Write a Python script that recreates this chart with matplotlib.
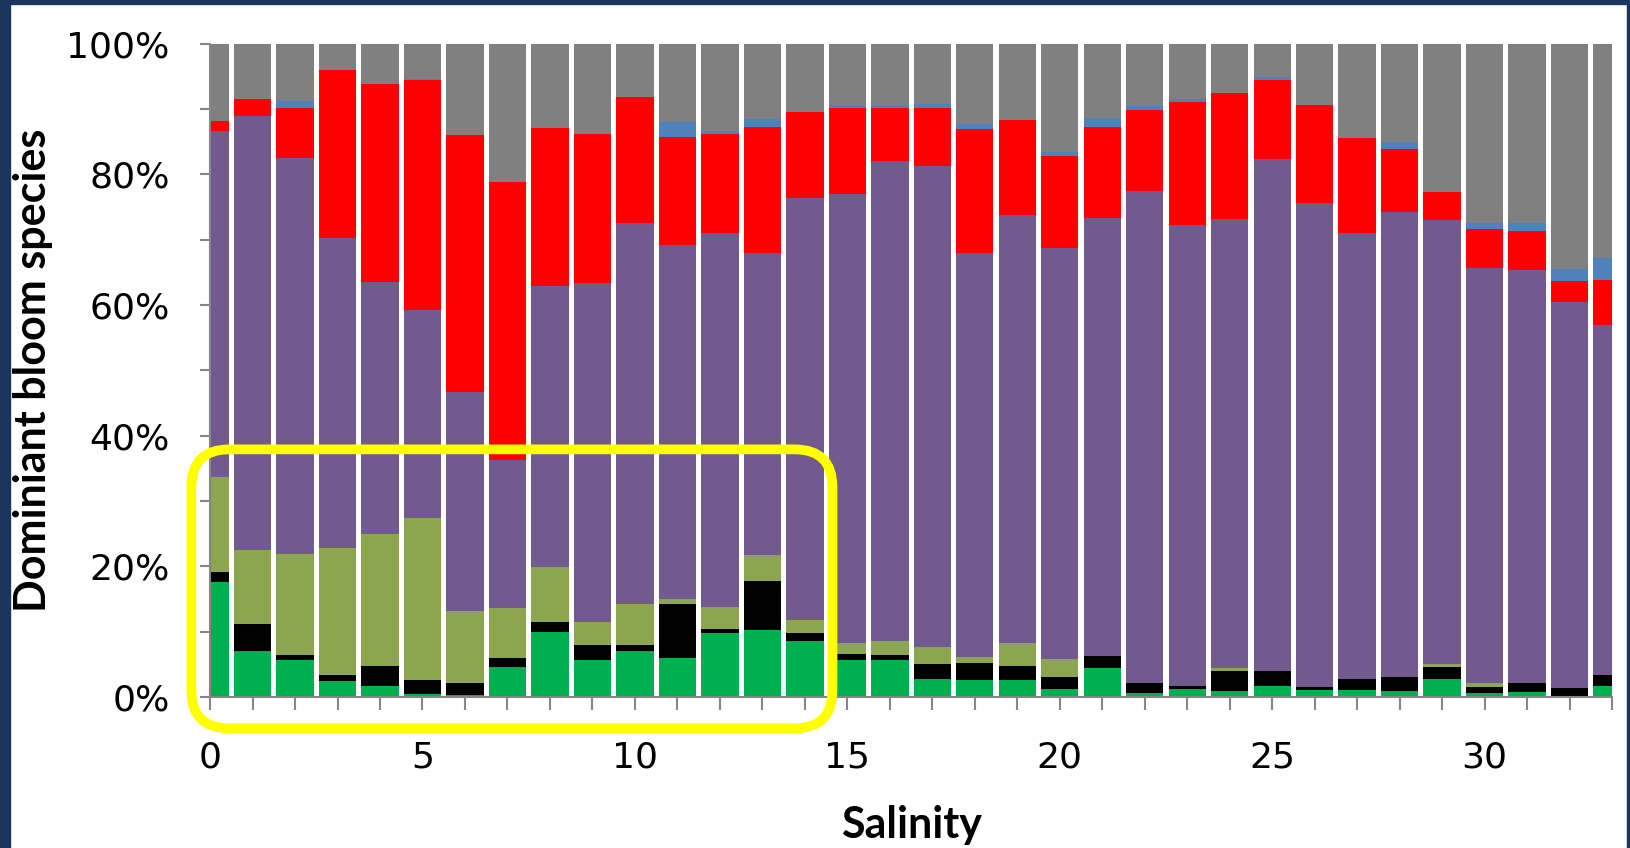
import numpy as np
import matplotlib
matplotlib.use("Agg")
import matplotlib.pyplot as plt
from matplotlib.patches import FancyBboxPatch, Rectangle

# salinity classes 0..33, share of each dominant bloom group (%)
salinity = np.arange(34)

green  = [17.6, 7.0, 5.6, 2.5, 1.7, 0.5, 0.3, 4.6, 10.0, 5.7, 7.1, 5.9, 9.8, 10.2, 8.6, 5.7, 5.6,
          2.8, 2.6, 2.6, 1.2, 4.4, 0.6, 1.2, 0.9, 1.7, 1.0, 1.1, 0.9, 2.8, 0.6, 0.7, 0.0, 1.7]
black  = [1.6, 4.2, 0.9, 0.8, 3.0, 2.1, 1.8, 1.3, 1.4, 2.2, 0.9, 8.3, 0.6, 7.6, 1.2, 0.9, 0.9,
          2.3, 2.6, 2.1, 1.9, 1.8, 1.6, 0.5, 3.1, 2.2, 0.5, 1.6, 2.2, 1.8, 0.9, 1.5, 1.3, 1.6]
olive  = [14.4, 11.3, 15.4, 19.5, 20.2, 24.8, 11.1, 7.7, 8.5, 3.6, 6.3, 0.8, 3.4, 4.0, 2.0, 1.7, 2.0,
          2.5, 0.9, 3.5, 2.7, 0.0, 0.0, 0.0, 0.5, 0.0, 0.0, 0.0, 0.0, 0.4, 0.6, 0.0, 0.0, 0.0]
purple = [53.0, 66.4, 60.6, 47.5, 38.6, 31.8, 33.5, 22.6, 43.0, 51.8, 58.3, 54.2, 57.2, 46.2, 64.6, 68.7, 73.5,
          73.7, 61.8, 65.5, 63.0, 67.1, 75.3, 70.6, 68.6, 78.4, 74.1, 68.3, 71.2, 68.0, 63.6, 63.1, 59.1, 53.6]
red    = [1.6, 2.7, 7.6, 25.6, 30.4, 35.2, 39.3, 42.6, 24.2, 22.9, 19.3, 16.5, 15.2, 19.2, 13.2, 13.1, 8.1,
          8.8, 19.1, 14.6, 14.0, 13.9, 12.4, 18.8, 19.4, 12.1, 15.0, 14.6, 9.6, 4.3, 6.0, 6.0, 3.2, 6.9]
blue   = [0.0, 0.0, 1.1, 0.0, 0.0, 0.2, 0.0, 0.0, 0.0, 0.0, 0.0, 2.3, 0.5, 1.3, 0.0, 0.5, 0.5,
          0.7, 0.7, 0.0, 0.6, 1.4, 0.5, 0.4, 0.0, 0.5, 0.0, 0.0, 1.0, 0.0, 0.9, 1.3, 1.9, 3.4]
gray   = [11.8, 8.4, 8.8, 4.1, 6.1, 5.4, 14.0, 21.2, 12.9, 13.8, 8.1, 12.0, 13.3, 11.5, 10.4, 9.4, 9.4,
          9.2, 12.3, 11.7, 16.6, 11.4, 9.6, 8.5, 7.5, 5.1, 9.4, 14.4, 15.1, 22.7, 27.4, 27.4, 34.5, 32.8]

layers = [green, black, olive, purple, red, blue, gray]
colors = ['#00B050', '#000000', '#8BA64E', '#725A8F', '#FF0000', '#4F81BD', '#808080']

fig = plt.figure(figsize=(16.31, 8.48), dpi=100)
ax = fig.add_axes([0.1288, 0.1781, 0.8596, 0.7704])

bottom = np.zeros(len(salinity))
for vals, col in zip(layers, colors):
    vals = np.array(vals)
    ax.bar(salinity, vals, width=0.88, bottom=bottom, color=col, linewidth=0)
    bottom += vals

ax.set_xlim(0, 33)
ax.set_ylim(0, 100)

ax.set_xticks(np.arange(0, 34))
ax.set_xticklabels([str(s) if s % 5 == 0 else '' for s in salinity])
ax.set_yticks(np.arange(0, 101, 10))
ax.set_yticklabels([f'{v}%' if v % 20 == 0 else '' for v in range(0, 101, 10)])

for side in ['top', 'right']:
    ax.spines[side].set_visible(False)
for side in ['left', 'bottom']:
    ax.spines[side].set_color('#868686')
    ax.spines[side].set_linewidth(1.5)

ax.tick_params(axis='both', direction='out', color='#868686', width=1.5, labelsize=26, pad=22)
ax.tick_params(axis='x', length=9)
ax.tick_params(axis='y', length=7)

ax.set_ylabel('Dominiant bloom species', fontsize=31, fontweight='bold', family='Lato', labelpad=10)
ax.set_xlabel('Salinity', fontsize=31, fontweight='bold', family='Lato', labelpad=22)

# yellow highlight around low-salinity bars
fig.canvas.draw()
(x0, y0), (x1, y1) = ax.transData.transform([(-0.44, -4.8), (14.65, 37.9)])
box = FancyBboxPatch((x0, y0), x1 - x0, y1 - y0,
                     boxstyle='round,pad=0,rounding_size=38',
                     transform=None, fill=False, edgecolor='#FFFF00', linewidth=7,
                     clip_on=False)
fig.add_artist(box)

# dark frame edges from the slide
navy = '#1c355e'
fig.add_artist(Rectangle((0, 0), 10 / 1631, 1, transform=fig.transFigure, color=navy))
fig.add_artist(Rectangle((0, 1 - 4 / 848), 1, 4 / 848, transform=fig.transFigure, color=navy))
fig.add_artist(Rectangle((1 - 4 / 1631, 0), 4 / 1631, 1, transform=fig.transFigure, color=navy))

fig.savefig('out.png', dpi=100)
